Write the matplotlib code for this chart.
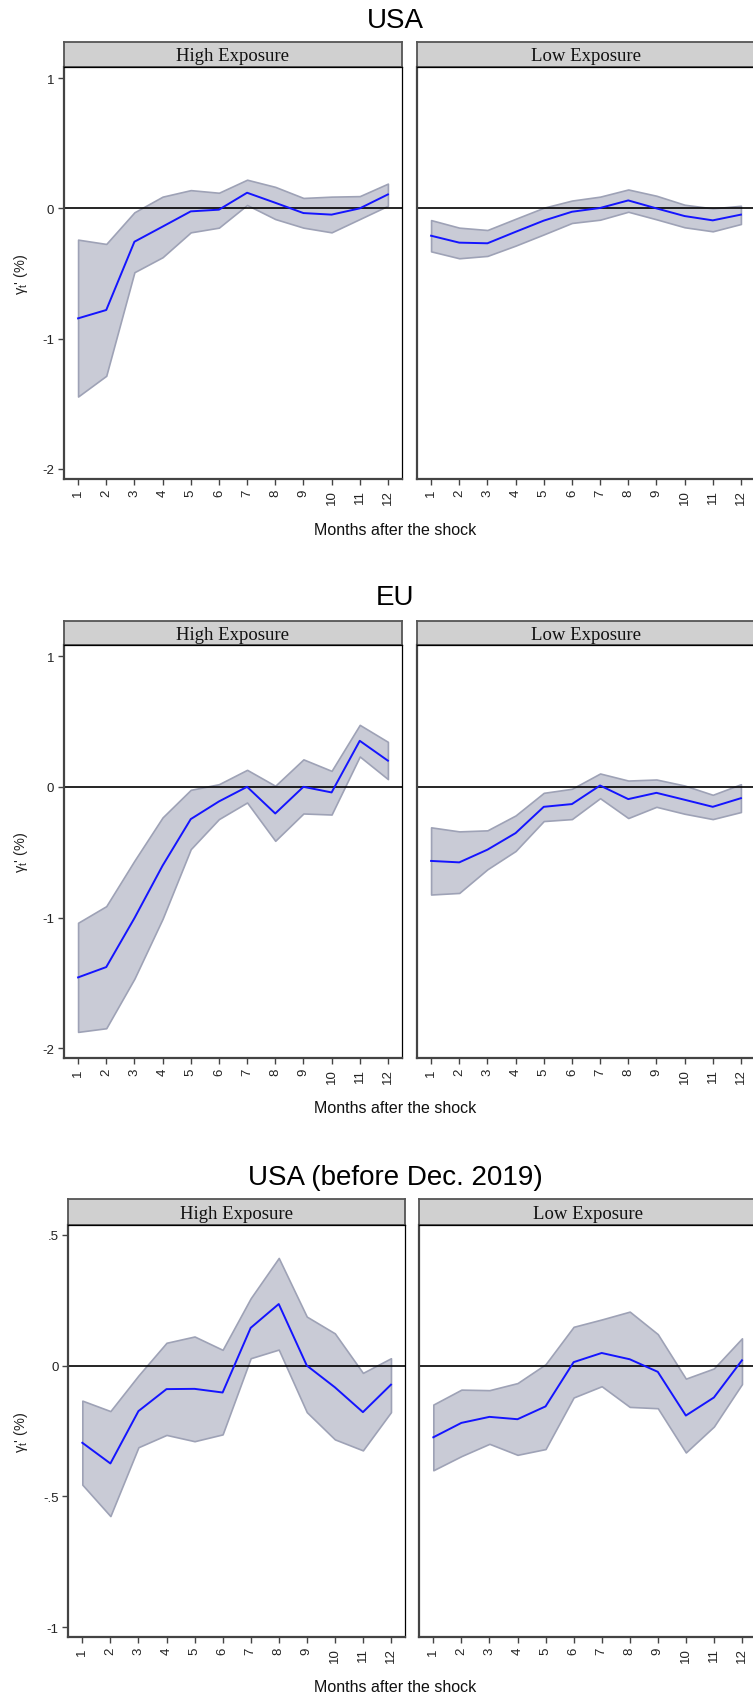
import matplotlib
matplotlib.use("Agg")
import matplotlib.pyplot as plt
import numpy as np

#%% dados
months = np.arange(1, 13)
month_labels = [str(m) for m in months]

usa_hi_b = [-0.844, -0.78, -0.256, -0.14, -0.023, -0.01, 0.12, 0.043, -0.036, -0.048, 0.0, 0.107]
usa_hi_up = [-0.24, -0.273, -0.03, 0.09, 0.14, 0.12, 0.22, 0.165, 0.08, 0.09, 0.094, 0.19]
usa_hi_dn = [-1.444, -1.285, -0.49, -0.375, -0.184, -0.148, 0.026, -0.082, -0.148, -0.184, -0.082, 0.02]

usa_lo_b = [-0.21, -0.263, -0.268, -0.18, -0.094, -0.026, 0.003, 0.061, 0.0, -0.059, -0.092, -0.048]
usa_lo_up = [-0.09, -0.148, -0.166, -0.08, 0.005, 0.06, 0.09, 0.145, 0.097, 0.028, 0.0, 0.02]
usa_lo_dn = [-0.33, -0.383, -0.365, -0.286, -0.2, -0.112, -0.087, -0.026, -0.084, -0.145, -0.176, -0.12]

eu_hi_b = [-1.458, -1.379, -1.005, -0.603, -0.247, -0.112, 0.0, -0.204, 0.0, -0.043, 0.352, 0.2]
eu_hi_up = [-1.04, -0.913, -0.565, -0.234, -0.023, 0.02, 0.13, 0.008, 0.21, 0.122, 0.474, 0.344]
eu_hi_dn = [-1.875, -1.847, -1.468, -1.01, -0.477, -0.247, -0.12, -0.413, -0.204, -0.212, 0.232, 0.059]

eu_lo_b = [-0.567, -0.578, -0.481, -0.354, -0.153, -0.132, 0.01, -0.094, -0.046, -0.099, -0.153, -0.087]
eu_lo_up = [-0.31, -0.341, -0.333, -0.219, -0.046, -0.015, 0.102, 0.048, 0.056, 0.01, -0.061, 0.02]
eu_lo_dn = [-0.824, -0.812, -0.631, -0.491, -0.262, -0.247, -0.087, -0.239, -0.153, -0.206, -0.247, -0.193]

pre_hi_b = [-0.295, -0.374, -0.174, -0.09, -0.089, -0.103, 0.144, 0.235, 0.0, -0.083, -0.178, -0.073]
pre_hi_up = [-0.134, -0.174, -0.038, 0.087, 0.111, 0.06, 0.257, 0.411, 0.187, 0.123, -0.028, 0.028]
pre_hi_dn = [-0.455, -0.575, -0.312, -0.265, -0.289, -0.263, 0.028, 0.061, -0.178, -0.282, -0.324, -0.178]

pre_lo_b = [-0.274, -0.219, -0.196, -0.205, -0.156, 0.013, 0.048, 0.024, -0.024, -0.191, -0.122, 0.02]
pre_lo_up = [-0.149, -0.092, -0.094, -0.067, 0.005, 0.148, 0.176, 0.206, 0.12, -0.05, -0.011, 0.104]
pre_lo_dn = [-0.4, -0.346, -0.299, -0.341, -0.319, -0.122, -0.079, -0.158, -0.163, -0.332, -0.233, -0.071]

titles = ["USA", "EU", "USA (before Dec. 2019)"]
panels = ["High Exposure", "Low Exposure"]

#%% figura
W, H = 753, 1699
plt.rcParams["font.family"] = ["Liberation Sans", "DejaVu Sans"]
plt.rcParams["mathtext.fontset"] = "custom"
plt.rcParams["mathtext.rm"] = "Liberation Sans"
plt.rcParams["mathtext.it"] = "Liberation Sans"
fig = plt.figure(figsize=(W / 100, H / 100), dpi=100)

def box(x0, y0, x1, y1):
    return [x0 / W, 1 - y1 / H, (x1 - x0) / W, (y1 - y0) / H]

def painel(x0, x1, y0, y1, strip_top, label, b, up, dn, ylim, yticks, yticklabels, show_y):
    st = fig.add_axes(box(x0, strip_top, x1, y0))
    st.set_facecolor("#d0d0d0")
    st.set_xticks([])
    st.set_yticks([])
    for s in st.spines.values():
        s.set_color("#555555")
        s.set_linewidth(1.3)
    st.text(0.5, 0.45, label, ha="center", va="center", fontsize=13.5, family="Liberation Serif", color="#111111", transform=st.transAxes)

    ax = fig.add_axes(box(x0, y0, x1, y1))
    ax.fill_between(months, dn, up, facecolor="#c9cbd6", edgecolor="#9ea2b6", linewidth=1.2, zorder=1)
    ax.axhline(0, color="black", linewidth=1.2, zorder=2)
    ax.plot(months, b, color="#1414ff", linewidth=1.4, zorder=3)
    ax.set_xlim(0.5, 12.5)
    ax.set_ylim(*ylim)
    ax.set_xticks(months)
    ax.set_xticklabels(month_labels, rotation=90, fontsize=9.5, color="#222222")
    if show_y:
        ax.set_yticks(yticks)
        ax.set_yticklabels(yticklabels, fontsize=9.5, color="#222222")
    else:
        ax.set_yticks([])
    ax.tick_params(axis="both", length=4.5, width=1, color="#444444", pad=2.5)
    ax.spines["left"].set_color("#444444")
    ax.spines["bottom"].set_color("#444444")
    ax.spines["left"].set_linewidth(1.6)
    ax.spines["bottom"].set_linewidth(1.6)
    ax.spines["top"].set_linewidth(0.9)
    ax.spines["right"].set_linewidth(0.9)
    return ax

# (y do título, topo do strip, topo do eixo, base do eixo, baseline do xlabel, x dos painéis)
layout = [
    (28, 43, 68, 480, 535, (64, 402), (417, 755)),
    (605, 621.7, 646, 1059.3, 1113, (64, 402), (417, 755)),
    (1185, 1200.3, 1225.7, 1638.3, 1692, (68.3, 405), (419.3, 756)),
]
dados = [
    ((usa_hi_b, usa_hi_up, usa_hi_dn), (usa_lo_b, usa_lo_up, usa_lo_dn)),
    ((eu_hi_b, eu_hi_up, eu_hi_dn), (eu_lo_b, eu_lo_up, eu_lo_dn)),
    ((pre_hi_b, pre_hi_up, pre_hi_dn), (pre_lo_b, pre_lo_up, pre_lo_dn)),
]
ylims = [(-2.077, 1.085), (-2.077, 1.085), (-1.038, 0.538)]
yticks = [[-2, -1, 0, 1], [-2, -1, 0, 1], [-1, -0.5, 0, 0.5]]
yticklabels = [["-2", "-1", "0", "1"], ["-2", "-1", "0", "1"], ["-1", "-.5", "0", ".5"]]

for i in range(3):
    ty, stop, y0, y1, xl, left, right = layout[i]
    fig.text(395 / W, 1 - ty / H, titles[i], ha="center", va="baseline", fontsize=20, color="black")
    for j, (xa, xb) in enumerate([left, right]):
        b, up, dn = dados[i][j]
        painel(xa, xb, y0, y1, stop, panels[j], b, up, dn, ylims[i], yticks[i], yticklabels[i], j == 0)
    fig.text(21 / W, 1 - (y0 + y1) / 2 / H, "γ$_{\\mathrm{t}}$' (%)", rotation=90, ha="center", va="center", fontsize=10.5, color="#222222")
    fig.text(395 / W, 1 - xl / H, "Months after the shock", ha="center", va="baseline", fontsize=11.5, color="#111111")

plt.savefig("out.png", dpi=100, facecolor="white")
